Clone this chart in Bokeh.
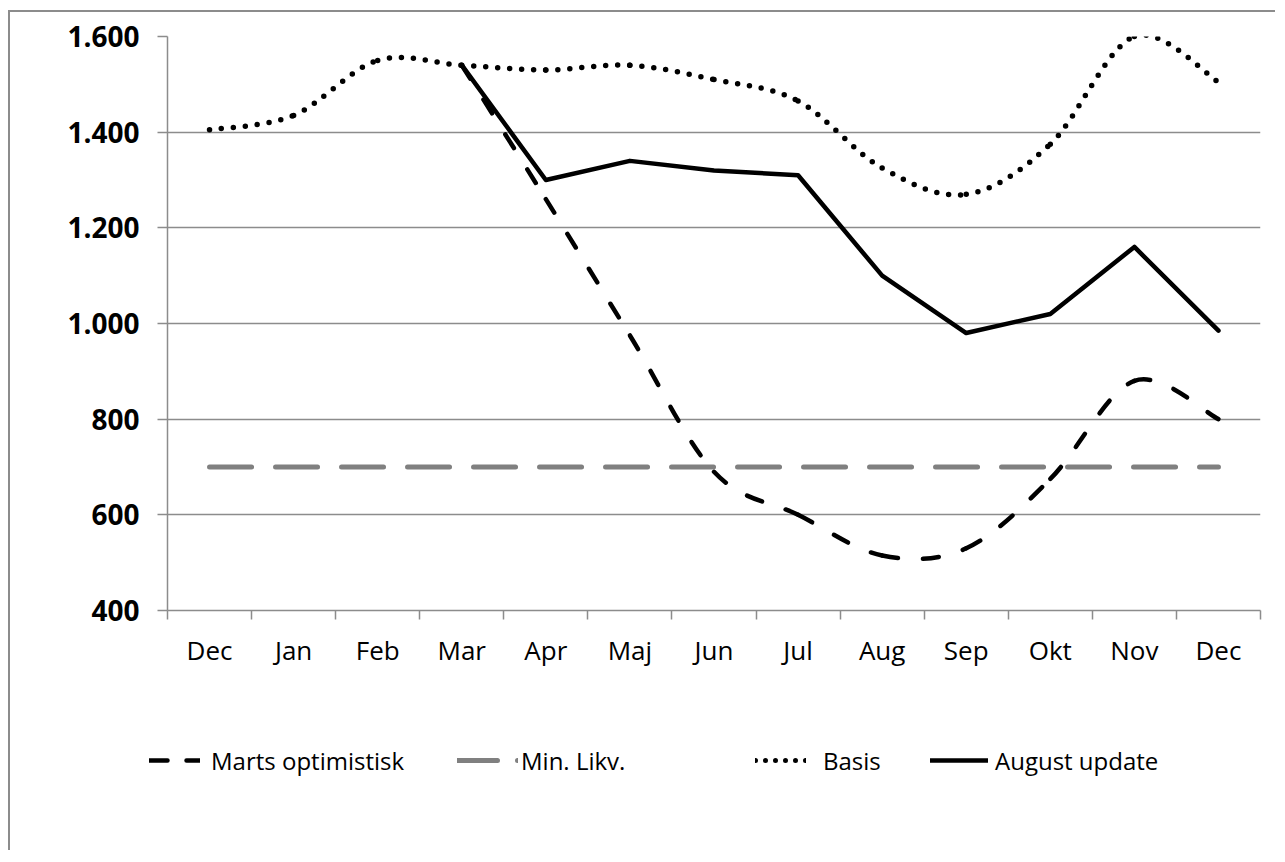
from bokeh.plotting import figure
from bokeh.layouts import column
from bokeh.models import (Range1d, FixedTicker, Legend, LegendItem, ColumnDataSource)
from bokeh.embed import file_html
from bokeh.resources import INLINE

# ---------------- data ----------------
months = ["Dec", "Jan", "Feb", "Mar", "Apr", "Maj", "Jun", "Jul", "Aug", "Sep", "Okt", "Nov", "Dec"]
marts_optimistisk = [None, None, None, 1540, 1260, 975, 690, 600, 515, 530, 675, 880, 800]
min_likv = [700, 700, 700, 700, 700, 700, 700, 700, 700, 700, 700, 700, 700]
basis = [1405, 1435, 1550, 1540, 1530, 1540, 1510, 1465, 1325, 1270, 1375, 1600, 1505]
august_update = [None, None, None, 1540, 1300, 1340, 1320, 1310, 1100, 980, 1020, 1160, 985]
y_ticks = [400, 600, 800, 1000, 1200, 1400, 1600]
y_tick_labels = ["400", "600", "800", "1.000", "1.200", "1.400", "1.600"]
series_names = ["Marts optimistisk", "Min. Likv.", "Basis", "August update"]

FONT = "Open Sans"
GRID = "#8c8c8c"
W = 1265


def points(vals):
    xs, ys = [], []
    for i, v in enumerate(vals):
        if v is not None:
            xs.append(i + 0.5)
            ys.append(v)
    return xs, ys


def smooth_source(vals):
    # Excel-like smoothed line: cubic Bezier segments (Catmull-Rom control points)
    xs, ys = points(vals)
    n = len(xs)
    d = dict(x0=[], y0=[], x1=[], y1=[], cx0=[], cy0=[], cx1=[], cy1=[])
    for i in range(n - 1):
        xp, yp = (xs[i - 1], ys[i - 1]) if i > 0 else (xs[i], ys[i])
        xn, yn = (xs[i + 2], ys[i + 2]) if i + 2 < n else (xs[i + 1], ys[i + 1])
        d["x0"].append(xs[i]); d["y0"].append(ys[i])
        d["x1"].append(xs[i + 1]); d["y1"].append(ys[i + 1])
        d["cx0"].append(xs[i] + (xs[i + 1] - xp) / 6.0)
        d["cy0"].append(ys[i] + (ys[i + 1] - yp) / 6.0)
        d["cx1"].append(xs[i + 1] - (xn - xs[i]) / 6.0)
        d["cy1"].append(ys[i + 1] - (yn - ys[i]) / 6.0)
    return ColumnDataSource(d)


p = figure(frame_width=1093, frame_height=574,
           min_border_left=157, min_border_right=15,
           min_border_top=24, min_border_bottom=90,
           x_range=Range1d(0, len(months)), y_range=Range1d(400, 1600),
           output_backend="svg", toolbar_location=None,
           background_fill_color="white", border_fill_color="white")
p.outline_line_color = None

# grid
p.xgrid.grid_line_color = None
p.ygrid.grid_line_color = GRID
p.ygrid.grid_line_width = 1.5

# y axis
p.yaxis.ticker = FixedTicker(ticks=y_ticks, minor_ticks=[])
p.yaxis.major_label_overrides = {t: l for t, l in zip(y_ticks, y_tick_labels)}
p.yaxis.axis_line_color = GRID
p.yaxis.axis_line_width = 1.5
p.yaxis.major_tick_line_color = GRID
p.yaxis.major_tick_line_width = 1.5
p.yaxis.major_tick_out = 10
p.yaxis.major_tick_in = 0
p.yaxis.major_label_standoff = 18
p.yaxis.major_label_text_font = FONT
p.yaxis.major_label_text_font_size = "28px"
p.yaxis.major_label_text_font_style = "bold"
p.yaxis.major_label_text_color = "black"

# x axis: labels at category centres, ticks at category boundaries
centres = [i + 0.5 for i in range(len(months))]
bounds = [i for i in range(len(months) + 1)]
p.xaxis.ticker = FixedTicker(ticks=centres, minor_ticks=bounds)
p.xaxis.major_label_overrides = {c: m for c, m in zip(centres, months)}
p.xaxis.axis_line_color = GRID
p.xaxis.axis_line_width = 1.5
p.xaxis.major_tick_out = 0
p.xaxis.major_tick_in = 0
p.xaxis.minor_tick_out = 9
p.xaxis.minor_tick_in = 0
p.xaxis.minor_tick_line_color = GRID
p.xaxis.minor_tick_line_width = 1.5
p.xaxis.major_label_standoff = 12
p.xaxis.major_label_text_font = FONT
p.xaxis.major_label_text_font_size = "26px"
p.xaxis.major_label_text_color = "black"

# styles
st_marts = dict(line_color="black", line_width=4.5, line_dash="16 25", line_cap="round")
st_min = dict(line_color="#808080", line_width=5, line_dash="42 24", line_cap="round")
st_basis = dict(line_color="black", line_width=5.5, line_dash="0 12", line_cap="round")
st_aug = dict(line_color="black", line_width=4.5, line_join="round", line_cap="round")

# series
mx, my = points(min_likv)
p.line(mx, my, **st_min)
p.bezier(x0="x0", y0="y0", x1="x1", y1="y1", cx0="cx0", cy0="cy0", cx1="cx1", cy1="cy1",
         source=smooth_source(basis), **st_basis)
p.bezier(x0="x0", y0="y0", x1="x1", y1="y1", cx0="cx0", cy0="cy0", cx1="cx1", cy1="cy1",
         source=smooth_source(marts_optimistisk), **st_marts)
ax, ay = points(august_update)
p.line(ax, ay, **st_aug)

# ---------------- legend strip ----------------
# The proxy lines carry the series data; this strip's ranges keep them out of view,
# so only their legend glyphs show (with the short dash patterns of the legend keys).
pl = figure(frame_width=W, frame_height=150, min_border=0,
            x_range=Range1d(0, 1), y_range=Range1d(0, 1),
            x_axis_location=None, y_axis_location=None,
            output_backend="svg", toolbar_location=None,
            background_fill_color="white", border_fill_color="white")
pl.outline_line_color = None
pl.grid.visible = False

series = [marts_optimistisk, min_likv, basis, august_update]
leg_styles = [dict(st_marts, line_dash="18 19"),
              dict(st_min, line_dash="40 20"),
              dict(st_basis, line_dash="0 10", line_width=5),
              st_aug]
legend_specs = [(139, 51, 11), (447, 61, 3), (745, 51, 17), (920, 58, 7)]
for name, vals, st, (lx, gw, so) in zip(series_names, series, leg_styles, legend_specs):
    sx, sy = points(vals)
    r = pl.line(sx, sy, **st)
    lg = Legend(items=[LegendItem(label=name, renderers=[r])],
                location=(lx, 73), orientation="horizontal",
                glyph_width=gw, glyph_height=34, label_height=34,
                label_standoff=so, padding=0, margin=0, spacing=0,
                border_line_color=None, background_fill_alpha=0,
                label_text_font=FONT, label_text_font_size="24px",
                label_text_color="black")
    pl.add_layout(lg, "center")

layout = column(p, pl, spacing=0)
layout.styles = {"border-left": "2px solid #8c8c8c", "border-top": "2px solid #8c8c8c",
                 "margin-left": "8px", "margin-top": "10px"}

open("out.html", "w").write(file_html(layout, INLINE))
